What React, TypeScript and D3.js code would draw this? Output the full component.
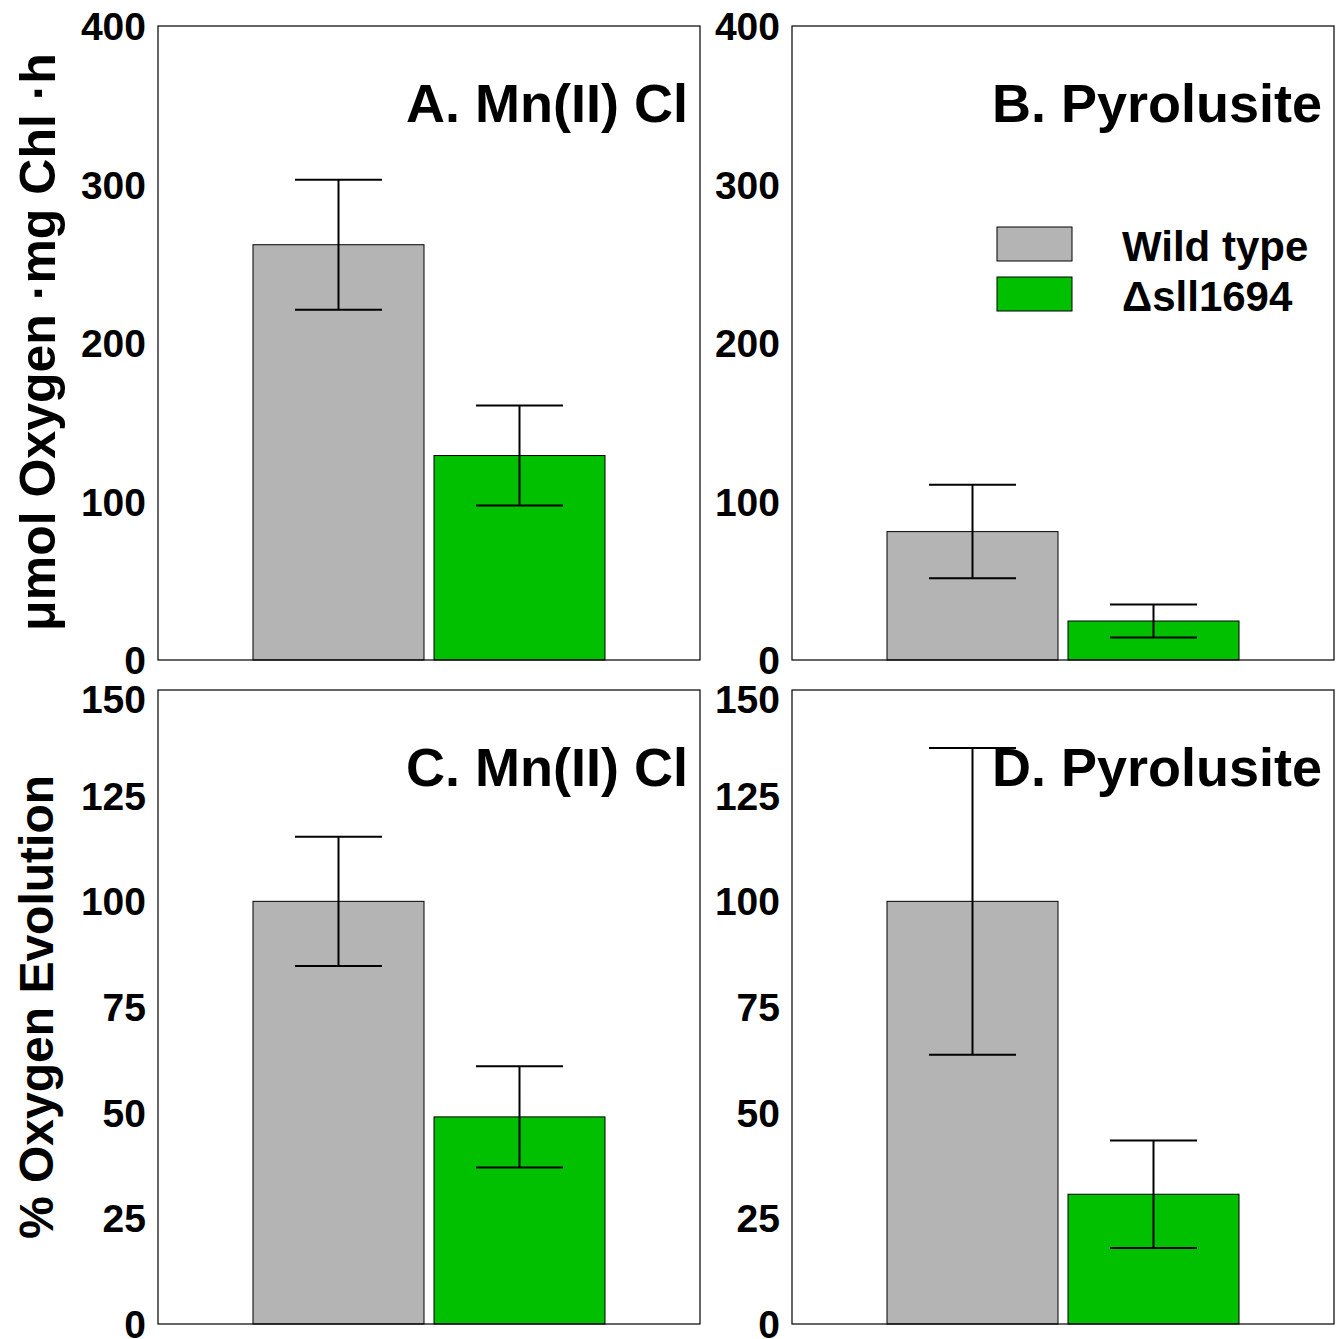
import React from 'react';
import * as d3 from 'd3';

// groups in each panel
const groups = ['Wild type', 'Δsll1694'];
const colors = ['#b4b4b4', '#00c000'];

// panel A: Mn(II) Cl, µmol O2
const rateMnMean = [262, 129];
const rateMnErr = [41, 31.5];
// panel B: Pyrolusite, µmol O2
const ratePyroMean = [81, 24.6];
const ratePyroErr = [29.5, 10.4];
// panel C: Mn(II) Cl, %
const pctMnMean = [100, 49];
const pctMnErr = [15.3, 12];
// panel D: Pyrolusite, %
const pctPyroMean = [100, 30.7];
const pctPyroErr = [36.3, 12.7];

const rateTicks = [0, 100, 200, 300, 400];
const pctTicks = [0, 25, 50, 75, 100, 125, 150];

const panels = [
  { title: 'A. Mn(II) Cl', mean: rateMnMean, err: rateMnErr, ticks: rateTicks, x: 158, y: 26, legend: false, topShift: 0 },
  { title: 'B. Pyrolusite', mean: ratePyroMean, err: ratePyroErr, ticks: rateTicks, x: 792, y: 26, legend: true, topShift: 0 },
  { title: 'C. Mn(II) Cl', mean: pctMnMean, err: pctMnErr, ticks: pctTicks, x: 158, y: 690, legend: false, topShift: 9 },
  { title: 'D. Pyrolusite', mean: pctPyroMean, err: pctPyroErr, ticks: pctTicks, x: 792, y: 690, legend: false, topShift: 9 },
];

const W = 542;
const H = 634;
const font = '"Liberation Sans", Arial, sans-serif';

const Panel = ({ p }: { p: typeof panels[number] }) => {
  const yMax = d3.max(p.ticks) as number;
  const y = d3.scaleLinear().domain([0, yMax]).range([H, 0]);
  const x = d3.scaleBand().domain(groups).range([95, W - 95]).paddingInner(10 / 181);
  const capW = 87;
  return (
    <g transform={`translate(${p.x},${p.y})`}>
      {groups.map((g, i) => (
        <rect key={g} x={x(g)} y={y(p.mean[i])} width={x.bandwidth()} height={H - y(p.mean[i])}
          fill={colors[i]} stroke="#000" strokeWidth={1} />
      ))}
      {groups.map((g, i) => {
        const cx = (x(g) as number) + x.bandwidth() / 2;
        const top = y(p.mean[i] + p.err[i]);
        const bot = y(p.mean[i] - p.err[i]);
        return (
          <g key={g} stroke="#000" strokeWidth={2}>
            <line x1={cx} x2={cx} y1={top} y2={bot} />
            <line x1={cx - capW / 2} x2={cx + capW / 2} y1={top} y2={top} />
            <line x1={cx - capW / 2} x2={cx + capW / 2} y1={bot} y2={bot} />
          </g>
        );
      })}
      <rect x={0} y={0} width={W} height={H} fill="none" stroke="#000" strokeWidth={1.2} />
      {p.ticks.map(t => (
        <text key={t} x={-12} y={y(t) + (t === yMax ? p.topShift : 0)} dy="0.36em" textAnchor="end"
          fontFamily={font} fontWeight="bold" fontSize={39}>{t}</text>
      ))}
      <text x={W - 12} y={96} textAnchor="end" fontFamily={font} fontWeight="bold" fontSize={54}>{p.title}</text>
      {p.legend && groups.map((g, i) => (
        <g key={g}>
          <rect x={205} y={201 + i * 50} width={75} height={34} fill={colors[i]} stroke="#000" strokeWidth={1} />
          <text x={330} y={235 + i * 50} fontFamily={font} fontWeight="bold" fontSize={42}>{g}</text>
        </g>
      ))}
    </g>
  );
};

export default function App() {
  return (
    <svg width={1341} height={1339} style={{ position: 'absolute', left: 0, top: 0, background: '#fff' }}>
      <rect width={1341} height={1339} fill="#fff" />
      {panels.map(p => <Panel key={p.title} p={p} />)}
      <text transform="translate(55,342) rotate(-90)" textAnchor="middle" fontFamily={font}
        fontWeight="bold" fontSize={50}>μmol Oxygen ·mg Chl ·h</text>
      <text transform="translate(53,1007) rotate(-90)" textAnchor="middle" fontFamily={font}
        fontWeight="bold" fontSize={48}>% Oxygen Evolution</text>
    </svg>
  );
}
